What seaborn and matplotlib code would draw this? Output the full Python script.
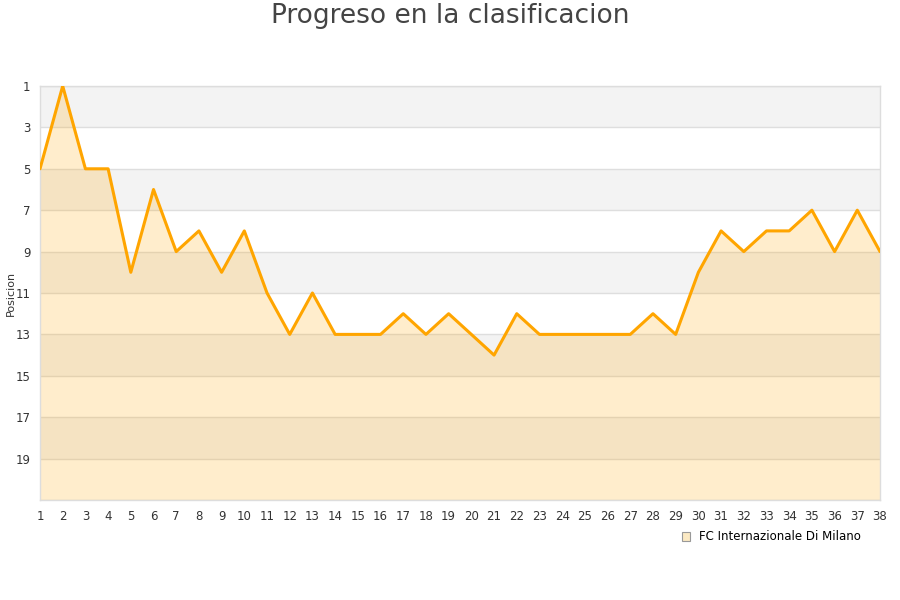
import matplotlib
matplotlib.use("Agg")
import matplotlib.pyplot as plt
import seaborn as sns
import pandas as pd
import numpy as np
from matplotlib.patches import Patch

jornadas = list(range(1, 39))
posiciones = [5, 1, 5, 5, 10, 6, 9, 8, 10, 8, 11, 13, 11, 13, 13, 13, 12, 13, 12, 13,
              14, 12, 13, 13, 13, 13, 13, 12, 13, 10, 8, 9, 8, 8, 7, 9, 7, 9]
team = "FC Internazionale Di Milano"
y_ticks = [1, 3, 5, 7, 9, 11, 13, 15, 17, 19]

df = pd.DataFrame({"Jornada": jornadas, "Posicion": posiciones})

sns.set_theme(style="white")
plt.rcParams['font.family'] = ['DejaVu Sans']

fig = plt.figure(figsize=(9, 6), dpi=100)
ax = fig.add_axes([40/900, 1-500/600, 840/900, 414/600])

ax.set_xlim(1, 38)
ax.set_ylim(21, 1)

# alternating bands
for i, lo in enumerate(range(1, 21, 2)):
    col = "#f3f3f3" if i % 2 == 0 else "#ffffff"
    ax.axhspan(lo, lo + 2, color=col, zorder=0, lw=0)
for yv in range(1, 22, 2):
    ax.axhline(yv, color="#dedede", lw=1, zorder=1)

ax.fill_between(df["Jornada"], df["Posicion"], 21, color="#ffa500", alpha=0.2, lw=0, zorder=2)
sns.lineplot(data=df, x="Jornada", y="Posicion", ax=ax, color="#ffa500", lw=2.2, zorder=3)

ax.set_xticks(jornadas)
ax.set_xticklabels([str(j) for j in jornadas], fontsize=8.5, color="#333333")
ax.set_yticks(y_ticks)
ax.set_yticklabels([str(t) for t in y_ticks], fontsize=8.5, color="#333333")
ax.tick_params(axis="both", length=0, pad=7)
ax.set_xlabel("")
ax.set_ylabel("Posicion", fontsize=8, color="#333333")
ax.yaxis.set_label_coords(-0.029, 0.5)

for s in ["left", "right", "top", "bottom"]:
    ax.spines[s].set_color("#dddddd")
    ax.spines[s].set_linewidth(1)

fig.suptitle("Progreso en la clasificacion", fontsize=19, color="#444444", y=0.995)

handle = Patch(facecolor="#fbe9c3", edgecolor="#999999", lw=0.8)
fig.legend([handle], [team], loc="center right", bbox_to_anchor=(872/900, 1-537/600),
           frameon=False, fontsize=8.5, handlelength=0.7, handleheight=0.7, handletextpad=0.8,
           labelcolor="#000000")

fig.savefig("out.png", dpi=100)
